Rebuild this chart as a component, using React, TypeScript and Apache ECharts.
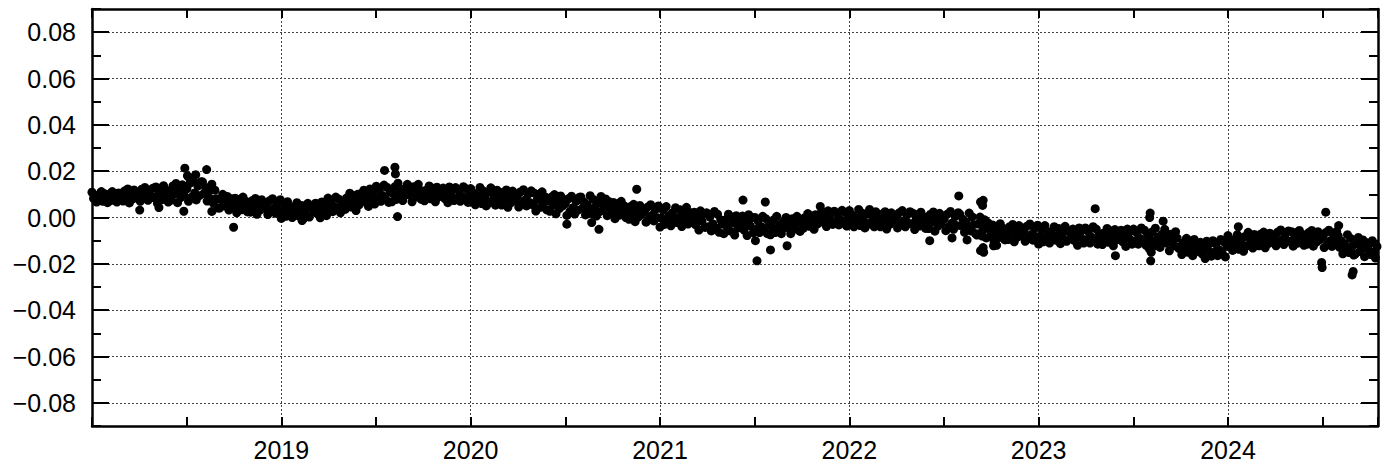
import React, { useEffect, useRef } from "react";
import * as echarts from "echarts";

// Regular samples every STEP_DAYS days, starting Jan 1 of each year (one row ≈ one month)
const STEP_DAYS = 3;

const band2018 = [
  0.0109, 0.0082, 0.0097, 0.0067, 0.0091, 0.0076, 0.0112, 0.0070, 0.0103, 0.0085, 0.0064,
  0.0100, 0.0073, 0.0112, 0.0079, 0.0094, 0.0067, 0.0106, 0.0088, 0.0076,
  0.0071, 0.0115, 0.0091, 0.0123, 0.0063, 0.0103, 0.0079, 0.0119, 0.0087, 0.0107,
  0.0106, 0.0070, 0.0122, 0.0082, 0.0130, 0.0094, 0.0074, 0.0114, 0.0086, 0.0126,
  0.0087, 0.0132, 0.0062, 0.0107, 0.0127, 0.0077, 0.0137, 0.0092, 0.0117, 0.0067, 0.0102,
  0.0075, 0.0136, 0.0102, 0.0147, 0.0064, 0.0119, 0.0086, 0.0141, 0.0097, 0.0125,
  0.0124, 0.0070, 0.0148, 0.0088, 0.0160, 0.0106, 0.0076, 0.0136, 0.0094, 0.0154,
  0.0154, 0.0104, 0.0130, 0.0071, 0.0113, 0.0082, 0.0144, 0.0062, 0.0118, 0.0081, 0.0041,
  0.0041, 0.0077, 0.0100, 0.0050, 0.0068, 0.0091, 0.0032, 0.0082, 0.0059,
  0.0042, 0.0083, 0.0020, 0.0061, 0.0079, 0.0033, 0.0088, 0.0047, 0.0070, 0.0024, 0.0056,
  0.0023, 0.0073, 0.0045, 0.0082, 0.0014, 0.0059, 0.0032, 0.0077, 0.0041, 0.0064,
  0.0054, 0.0013, 0.0072, 0.0027, 0.0081, 0.0040, 0.0018, 0.0063, 0.0031, 0.0077,
];
const band2019 = [
  -0.0004, 0.0027, 0.0055, 0.0005, 0.0068, 0.0014, 0.0037, 0.0000, 0.0046, 0.0023, 0.0064,
  0.0007, 0.0025, 0.0052, -0.0007, 0.0034, 0.0011, 0.0061, 0.0002, 0.0043,
  0.0049, 0.0026, 0.0062, 0.0017, 0.0044, -0.0001, 0.0067, 0.0030, 0.0058, 0.0008,
  0.0084, 0.0038, 0.0070, 0.0025, 0.0047, 0.0088, 0.0034, 0.0079, 0.0020, 0.0061,
  0.0070, 0.0035, 0.0085, 0.0060, 0.0105, 0.0045, 0.0095, 0.0075, 0.0030, 0.0100, 0.0055,
  0.0103, 0.0078, 0.0118, 0.0068, 0.0098, 0.0048, 0.0123, 0.0083, 0.0113, 0.0058,
  0.0135, 0.0085, 0.0120, 0.0070, 0.0095, 0.0140, 0.0080, 0.0130, 0.0065, 0.0110,
  0.0068, 0.0103, 0.0133, 0.0078, 0.0148, 0.0088, 0.0113, 0.0073, 0.0123, 0.0098, 0.0143,
  0.0098, 0.0123, 0.0068, 0.0133, 0.0108, 0.0088, 0.0143, 0.0118, 0.0078,
  0.0104, 0.0072, 0.0118, 0.0095, 0.0136, 0.0081, 0.0127, 0.0109, 0.0068, 0.0131, 0.0090,
  0.0114, 0.0091, 0.0127, 0.0082, 0.0109, 0.0064, 0.0132, 0.0095, 0.0123, 0.0073,
  0.0129, 0.0083, 0.0115, 0.0070, 0.0092, 0.0133, 0.0079, 0.0124, 0.0065, 0.0106,
];
const band2020 = [
  0.0125, 0.0080, 0.0105, 0.0055, 0.0095, 0.0070, 0.0130, 0.0060, 0.0115, 0.0085, 0.0050,
  0.0108, 0.0063, 0.0128, 0.0073, 0.0098, 0.0053, 0.0118, 0.0088, 0.0068,
  0.0054, 0.0109, 0.0079, 0.0119, 0.0044, 0.0094, 0.0064, 0.0114, 0.0074, 0.0099,
  0.0090, 0.0045, 0.0110, 0.0060, 0.0120, 0.0075, 0.0050, 0.0100, 0.0065, 0.0115,
  0.0055, 0.0105, 0.0028, 0.0078, 0.0100, 0.0044, 0.0111, 0.0061, 0.0089, 0.0033, 0.0072,
  0.0027, 0.0088, 0.0054, 0.0099, 0.0016, 0.0071, 0.0038, 0.0093, 0.0049, 0.0077,
  0.0059, 0.0009, 0.0081, 0.0026, 0.0092, 0.0042, 0.0015, 0.0070, 0.0031, 0.0087,
  0.0089, 0.0039, 0.0067, 0.0011, 0.0056, 0.0028, 0.0094, 0.0017, 0.0078, 0.0044, 0.0006,
  0.0019, 0.0063, 0.0091, 0.0030, 0.0052, 0.0080, 0.0008, 0.0069, 0.0041,
  0.0020, 0.0065, -0.0005, 0.0040, 0.0060, 0.0010, 0.0070, 0.0025, 0.0050, 0.0000, 0.0035,
  -0.0008, 0.0047, 0.0017, 0.0057, -0.0018, 0.0032, 0.0002, 0.0052, 0.0012, 0.0037,
  0.0025, -0.0020, 0.0045, -0.0005, 0.0055, 0.0010, -0.0015, 0.0035, 0.0000, 0.0050,
];
const band2021 = [
  -0.0041, -0.0003, 0.0031, -0.0030, 0.0047, -0.0019, 0.0009, -0.0036, 0.0020, -0.0008, 0.0042,
  -0.0022, 0.0000, 0.0033, -0.0039, 0.0011, -0.0017, 0.0044, -0.0028, 0.0022,
  0.0007, -0.0021, 0.0023, -0.0032, 0.0001, -0.0054, 0.0029, -0.0016, 0.0018, -0.0043,
  0.0020, -0.0040, 0.0002, -0.0058, -0.0028, 0.0026, -0.0046, 0.0014, -0.0064, -0.0010,
  -0.0028, -0.0070, -0.0010, -0.0040, 0.0014, -0.0058, 0.0002, -0.0022, -0.0076, 0.0008, -0.0046,
  -0.0012, -0.0042, 0.0006, -0.0054, -0.0018, -0.0078, 0.0012, -0.0036, 0.0000, -0.0066,
  0.0000, -0.0050, -0.0015, -0.0065, -0.0040, 0.0005, -0.0055, -0.0005, -0.0070, -0.0025,
  -0.0075, -0.0040, -0.0010, -0.0065, 0.0005, -0.0055, -0.0030, -0.0070, -0.0020, -0.0045, 0.0000,
  -0.0040, -0.0015, -0.0070, -0.0005, -0.0030, -0.0050, 0.0005, -0.0020, -0.0060,
  -0.0015, -0.0047, -0.0001, -0.0024, 0.0017, -0.0038, 0.0008, -0.0010, -0.0051, 0.0012, -0.0029,
  0.0011, -0.0012, 0.0024, -0.0021, 0.0006, -0.0039, 0.0029, -0.0008, 0.0020, -0.0030,
  0.0027, -0.0019, 0.0013, -0.0032, -0.0010, 0.0031, -0.0023, 0.0022, -0.0037, 0.0004,
];
const band2022 = [
  0.0030, -0.0015, 0.0010, -0.0040, 0.0000, -0.0025, 0.0035, -0.0035, 0.0020, -0.0010, -0.0045,
  0.0015, -0.0030, 0.0035, -0.0020, 0.0005, -0.0040, 0.0025, -0.0005, -0.0025,
  -0.0040, 0.0015, -0.0015, 0.0025, -0.0050, 0.0000, -0.0030, 0.0020, -0.0020, 0.0005,
  0.0000, -0.0045, 0.0020, -0.0030, 0.0030, -0.0015, -0.0040, 0.0010, -0.0025, 0.0025,
  -0.0027, 0.0018, -0.0052, -0.0007, 0.0013, -0.0037, 0.0023, -0.0022, 0.0003, -0.0047, -0.0012,
  -0.0048, 0.0013, -0.0021, 0.0024, -0.0059, -0.0004, -0.0037, 0.0018, -0.0026, 0.0002,
  -0.0007, -0.0057, 0.0015, -0.0040, 0.0026, -0.0024, -0.0051, 0.0004, -0.0035, 0.0021,
  0.0014, -0.0036, -0.0008, -0.0064, -0.0019, -0.0047, 0.0019, -0.0058, 0.0003, -0.0031, -0.0069,
  -0.0076, -0.0028, 0.0002, -0.0064, -0.0040, -0.0010, -0.0088, -0.0022, -0.0052,
  -0.0077, -0.0032, -0.0102, -0.0057, -0.0037, -0.0087, -0.0027, -0.0072, -0.0047, -0.0097, -0.0062,
  -0.0095, -0.0040, -0.0070, -0.0030, -0.0105, -0.0055, -0.0085, -0.0035, -0.0075, -0.0050,
  -0.0058, -0.0103, -0.0038, -0.0088, -0.0028, -0.0073, -0.0098, -0.0048, -0.0083, -0.0033,
];
const band2023 = [
  -0.0115, -0.0080, -0.0050, -0.0105, -0.0035, -0.0095, -0.0070, -0.0110, -0.0060, -0.0085, -0.0040,
  -0.0098, -0.0078, -0.0048, -0.0113, -0.0068, -0.0093, -0.0038, -0.0103, -0.0058,
  -0.0065, -0.0090, -0.0050, -0.0100, -0.0070, -0.0120, -0.0045, -0.0085, -0.0055, -0.0110,
  -0.0045, -0.0095, -0.0060, -0.0110, -0.0085, -0.0040, -0.0100, -0.0050, -0.0115, -0.0070,
  -0.0082, -0.0117, -0.0067, -0.0092, -0.0047, -0.0107, -0.0057, -0.0077, -0.0122, -0.0052, -0.0097,
  -0.0070, -0.0095, -0.0055, -0.0105, -0.0075, -0.0125, -0.0050, -0.0090, -0.0060, -0.0115,
  -0.0050, -0.0100, -0.0065, -0.0115, -0.0090, -0.0045, -0.0105, -0.0055, -0.0120, -0.0075,
  -0.0134, -0.0096, -0.0062, -0.0123, -0.0046, -0.0112, -0.0084, -0.0129, -0.0073, -0.0101, -0.0051,
  -0.0111, -0.0083, -0.0144, -0.0072, -0.0100, -0.0122, -0.0061, -0.0089, -0.0133,
  -0.0125, -0.0160, -0.0110, -0.0135, -0.0090, -0.0150, -0.0100, -0.0120, -0.0165, -0.0095, -0.0140,
  -0.0122, -0.0147, -0.0107, -0.0157, -0.0127, -0.0177, -0.0102, -0.0142, -0.0112, -0.0167,
  -0.0100, -0.0150, -0.0115, -0.0165, -0.0140, -0.0095, -0.0155, -0.0105, -0.0170, -0.0125,
];
const band2024 = [
  -0.0078, -0.0119, -0.0096, -0.0142, -0.0105, -0.0128, -0.0074, -0.0137, -0.0087, -0.0115, -0.0146,
  -0.0082, -0.0123, -0.0064, -0.0114, -0.0091, -0.0132, -0.0073, -0.0100, -0.0118,
  -0.0122, -0.0072, -0.0100, -0.0063, -0.0131, -0.0086, -0.0113, -0.0068, -0.0104, -0.0081,
  -0.0081, -0.0122, -0.0063, -0.0108, -0.0054, -0.0095, -0.0117, -0.0072, -0.0104, -0.0058,
  -0.0102, -0.0061, -0.0124, -0.0083, -0.0065, -0.0111, -0.0056, -0.0097, -0.0074, -0.0120, -0.0088,
  -0.0115, -0.0065, -0.0093, -0.0056, -0.0124, -0.0079, -0.0106, -0.0061, -0.0097, -0.0074,
  -0.0085, -0.0130, -0.0065, -0.0115, -0.0055, -0.0100, -0.0125, -0.0075, -0.0110, -0.0060,
  -0.0079, -0.0129, -0.0101, -0.0157, -0.0112, -0.0140, -0.0074, -0.0151, -0.0090, -0.0124, -0.0162,
  -0.0158, -0.0114, -0.0086, -0.0147, -0.0125, -0.0097, -0.0169, -0.0108, -0.0136,
  -0.0115, -0.0160, -0.0100, -0.0150, -0.0175, -0.0125,
];
const bandYears = [2018, 2019, 2020, 2021, 2022, 2023, 2024];
const bandByYear = [band2018, band2019, band2020, band2021, band2022, band2023, band2024];

// Isolated points away from the main band
const outlierDates = [
  "2018-04-03", "2018-05-10", "2018-06-27", "2018-06-29", "2018-07-04", "2018-07-06",
  "2018-07-20", "2018-08-10", "2018-08-20", "2018-10-01", "2019-02-10", "2019-07-19",
  "2019-08-08", "2019-08-09", "2019-08-13", "2020-07-05", "2020-08-22", "2020-09-05",
  "2020-11-17", "2021-06-10", "2021-07-04", "2021-07-07", "2021-07-23", "2021-08-02",
  "2021-09-03", "2021-11-06", "2022-06-05", "2022-07-18", "2022-07-31", "2022-08-16",
  "2022-09-11", "2022-09-11", "2022-09-14", "2022-09-15", "2022-09-16", "2022-09-16",
  "2022-09-17", "2022-10-06", "2022-10-12", "2023-04-20", "2023-05-29", "2023-08-03",
  "2023-08-04", "2023-08-05", "2023-08-06", "2023-08-29", "2024-01-21", "2024-06-30",
  "2024-07-01", "2024-07-08", "2024-08-02", "2024-08-28", "2024-08-30",
];
const outlierValues = [
  0.0032, 0.0043, 0.0027, 0.0213, 0.0180, 0.0175,
  0.0185, 0.0207, 0.0026, -0.0042, -0.0013, 0.0203,
  0.0217, 0.0188, 0.0004, -0.0029, -0.0022, -0.0051,
  0.0122, 0.0075, -0.0100, -0.0187, 0.0067, -0.0140,
  -0.0122, 0.0048, -0.0100, -0.0088, 0.0093, -0.0097,
  -0.0143, 0.0067, -0.0080, 0.0052, 0.0074, -0.0130,
  -0.0150, -0.0122, -0.0120, 0.0038, -0.0165, 0.0000,
  0.0019, -0.0187, -0.0150, -0.0016, -0.0040, -0.0194,
  -0.0216, 0.0023, -0.0035, -0.0248, -0.0233,
];

// Axes (x in decimal years)
const xMinYear = 2018;
const xMaxDate = "2024-10-17";
const xTickStep = 0.5;
const xGridStep = 1;
const yMin = -0.09;
const yMax = 0.09;
const yMinorStep = 0.01;
const yMajorMin = -0.08;
const yMajorMax = 0.08;
const yMajorStep = 0.02;

const DAY = 86400000;
const FONT = "'Liberation Sans', Arial, Helvetica, sans-serif";
const TICK_COLOR = "#000";

function toDecimalYear(t: number): number {
  const y = new Date(t).getUTCFullYear();
  const a = Date.UTC(y, 0, 1);
  const b = Date.UTC(y + 1, 0, 1);
  return y + (t - a) / (b - a);
}

export default function App() {
  const ref = useRef<HTMLDivElement>(null);

  useEffect(() => {
    if (!ref.current) return;
    const chart = echarts.init(ref.current, undefined, { renderer: "svg" });

    const bandData: [number, number][] = [];
    bandByYear.forEach((vals, k) => {
      const start = Date.UTC(bandYears[k], 0, 1);
      vals.forEach((v, i) => bandData.push([toDecimalYear(start + i * STEP_DAYS * DAY), v]));
    });
    const outlierData: [number, number][] = outlierDates.map((d, i) => [
      toDecimalYear(Date.parse(d)),
      outlierValues[i],
    ]);
    const xMaxYear = toDecimalYear(Date.parse(xMaxDate));

    const H = 464;
    const gridTop = 9;
    const gridBottom = 38;
    const plotH = H - gridTop - gridBottom;
    const inset = ((yMax - yMajorMax) / (yMax - yMin)) * plotH;

    const frame = { show: true, onZero: false, lineStyle: { color: "#000", width: 2.5 } };
    const dashed = { type: [2, 2] as number[], color: "#444", width: 1 };
    const tickLine = { color: TICK_COLOR, width: 2 };

    const xTickAxis = (position: "top" | "bottom", withLabels: boolean) => ({
      type: "value",
      gridIndex: 0,
      position,
      min: xMinYear,
      max: xMaxYear,
      interval: xTickStep,
      axisLine: frame,
      axisTick: { show: true, inside: true, length: 9, lineStyle: tickLine },
      splitLine: { show: false },
      axisLabel: withLabels
        ? {
            show: true,
            formatter: (v: number) => {
              const r = Math.round(v);
              return Math.abs(v - r) < 1e-6 && r > xMinYear ? String(r) : "";
            },
            color: "#000",
            fontSize: 25,
            fontFamily: FONT,
            margin: 11,
          }
        : { show: false },
    });

    const yMinorAxis = (position: "left" | "right") => ({
      type: "value",
      gridIndex: 0,
      position,
      min: yMin,
      max: yMax,
      interval: yMinorStep,
      axisLine: frame,
      axisTick: { show: true, inside: true, length: 9, lineStyle: tickLine },
      axisLabel: { show: false },
      splitLine: { show: false },
    });

    const yMajorAxis = (position: "left" | "right", withLabels: boolean) => ({
      type: "value",
      gridIndex: 1,
      position,
      min: yMajorMin,
      max: yMajorMax,
      interval: yMajorStep,
      axisLine: { show: false },
      axisTick: { show: true, inside: true, length: 17, lineStyle: tickLine },
      splitLine: { show: withLabels, lineStyle: dashed },
      axisLabel: withLabels
        ? {
            show: true,
            formatter: (v: number) => (Math.abs(v) < 1e-9 ? "0.00" : v.toFixed(2).replace("-", "\u2212")),
            color: "#000",
            fontSize: 25,
            fontFamily: FONT,
            margin: 16,
          }
        : { show: false },
    });

    chart.setOption({
      animation: false,
      grid: [
        { left: 92, right: 12, top: gridTop, bottom: gridBottom, containLabel: false },
        { left: 92, right: 12, top: gridTop + inset, bottom: gridBottom + inset, containLabel: false },
      ],
      xAxis: [
        xTickAxis("bottom", true),
        xTickAxis("top", false),
        {
          type: "value",
          gridIndex: 0,
          position: "top",
          min: xMinYear,
          max: xMaxYear,
          interval: xGridStep,
          axisLine: { show: false },
          axisTick: { show: false },
          axisLabel: { show: false },
          splitLine: { show: true, lineStyle: dashed },
        },
        { type: "value", gridIndex: 1, show: false, min: xMinYear, max: xMaxYear },
      ],
      yAxis: [
        yMinorAxis("left"),
        yMinorAxis("right"),
        yMajorAxis("left", true),
        yMajorAxis("right", false),
      ],
      series: [
        {
          type: "scatter",
          name: "band",
          data: bandData,
          xAxisIndex: 0,
          yAxisIndex: 0,
          symbol: "circle",
          symbolSize: 9,
          itemStyle: { color: "#000", opacity: 1 },
          z: 3,
        },
        {
          type: "scatter",
          name: "outliers",
          data: outlierData,
          xAxisIndex: 0,
          yAxisIndex: 0,
          symbol: "circle",
          symbolSize: 9,
          itemStyle: { color: "#000", opacity: 1 },
          z: 3,
        },
      ],
    });

    return () => chart.dispose();
  }, []);

  return (
    <div
      ref={ref}
      style={{ position: "absolute", left: 0, top: 0, width: 1390, height: 464, background: "#fff" }}
    />
  );
}
